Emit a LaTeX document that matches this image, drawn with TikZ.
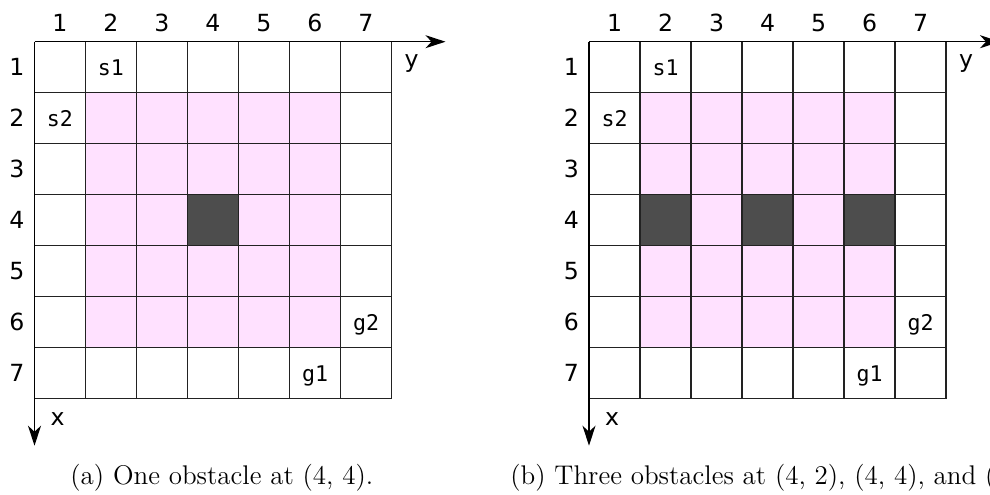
\documentclass[tikz,border=0pt]{standalone}
\usepackage{fontspec}
\newfontfamily\lblfont{DejaVu Sans}
\newfontfamily\cellfont{DejaVu Sans Mono}
\usetikzlibrary{arrows.meta}
\definecolor{cellpink}{HTML}{FFE1FF}
\definecolor{obstgray}{HTML}{4D4D4D}
\definecolor{gridcol}{HTML}{222222}
\tikzset{
  gridline/.style={draw=gridcol, line width=0.6pt},
  axisline/.style={draw=black, line width=0.65pt, -{Stealth[length=10pt,width=6.5pt,inset=3pt]}},
  lbl/.style={font=\lblfont\fontsize{11.8}{14}\selectfont, inner sep=0pt, anchor=base},
  celltext/.style={font=\cellfont\fontsize{10.8}{13}\selectfont, inner sep=0pt, anchor=base},
  captext/.style={font=\fontsize{13.5}{16}\selectfont, inner sep=0pt, anchor=base west},
  obst/.style={fill=obstgray},
  pinkcell/.style={fill=cellpink}
}
\newcommand{\gridpanel}[3]{%
\begin{scope}[shift={(#2,41.7)}]
  \fill[pinkcell] (51,51) rectangle (306,306);
  \foreach \c in {#3} \fill[obst] ({(\c-1)*51},153) rectangle ({\c*51},204);
  \foreach \i in {1,...,7} {
    \draw[gridline] ({\i*51},0) -- ({\i*51},357);
    \draw[gridline] (0,{\i*51}) -- (357,{\i*51});
    \node[lbl] (#1-col\i) at ({\i*51-25.5},-10.5) {\i};
    \node[lbl] (#1-row\i) at (-17.5,{\i*51-25.5+8.3}) {\i};
  }
  \coordinate (#1-o) at (0,0);
  \coordinate (#1-yend) at (411,0);
  \coordinate (#1-xend) at (0,404);
  \draw[axisline] (#1-o) -- (#1-yend);
  \draw[axisline] (#1-o) -- (#1-xend);
  \node[lbl] (#1-ylab) at (377,25.3) {y};
  \node[lbl] (#1-xlab) at (23,384) {x};
  \node[celltext] (#1-s1) at (76.5,33.5) {s1};
  \node[celltext] (#1-s2) at (25.5,84.5) {s2};
  \node[celltext] (#1-g2) at (331.5,288.5) {g2};
  \node[celltext] (#1-g1) at (280.5,339.5) {g1};
\end{scope}}
\begin{document}
\begin{tikzpicture}[x=0.5pt,y=-0.5pt]
\useasboundingbox (0,0) rectangle (990,494);
\gridpanel{a}{34.5}{4}
\gridpanel{b}{589}{2,4,6}
\node[captext] (capa) at (70,484) {(a) One obstacle at (4, 4).};
\node[captext] (capb) at (510,484) {(b) Three obstacles at (4, 2), (4, 4), and (4, 6).};
\end{tikzpicture}
\end{document}
